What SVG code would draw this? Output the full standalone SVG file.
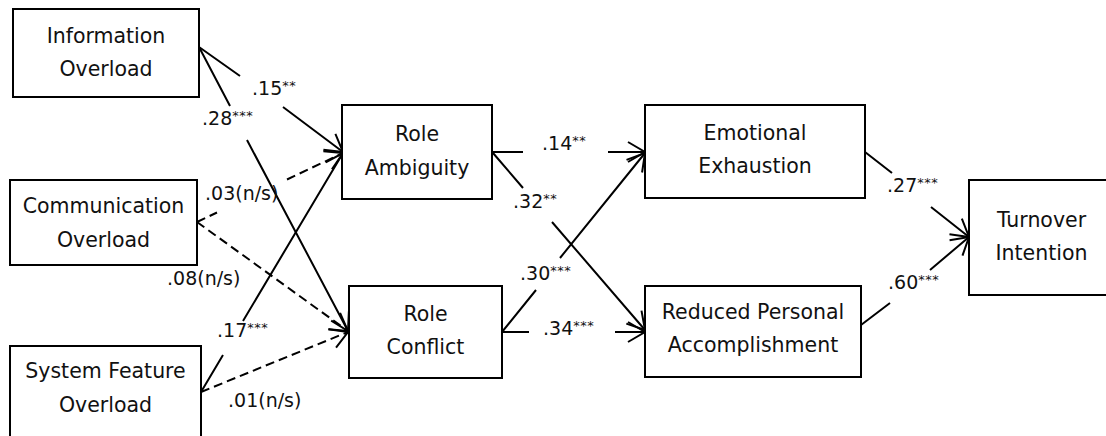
<svg xmlns="http://www.w3.org/2000/svg" width="1106" height="436" viewBox="0 0 1106 436">
<style>
.box{fill:#fff;stroke:#000;stroke-width:2}
.nt{font-family:"DejaVu Sans","Verdana",sans-serif;font-size:20.5px;fill:#111;text-anchor:middle}
.lb{font-family:"DejaVu Sans","Verdana",sans-serif;font-size:19px;fill:#111}
.st{font-size:13px;letter-spacing:0.5px}
.c{fill:none;stroke:#000;stroke-width:2}
.d{stroke-dasharray:9 5}
.ah{fill:none;stroke:#000;stroke-width:2;stroke-dasharray:none}
</style>
<defs>
<marker id="arr" markerUnits="userSpaceOnUse" viewBox="-20 -12 22 24" refX="0" refY="0" markerWidth="22" markerHeight="24" orient="auto" overflow="visible">
<path class="ah" d="M-17,-10 L0,0 L-17,10"/>
</marker>
</defs>
<rect width="1106" height="436" fill="#fff"/>
<g id="connectors">
<path class="c" marker-end="url(#arr)" d="M199,47 L240,76 M283,107 L343,152"/>
<path class="c" marker-end="url(#arr)" d="M199,47 L230,106 M247,140 L348,331"/>
<path class="c d" marker-end="url(#arr)" d="M197,222 L217,212.5 M287,179.5 L343,153"/>
<path class="c d" marker-end="url(#arr)" d="M197,222 L348,331"/>
<path class="c" marker-end="url(#arr)" d="M201,392 L223,355 M243,321 L343,153"/>
<path class="c d" marker-end="url(#arr)" d="M201,392 L348,332"/>
<path class="c" marker-end="url(#arr)" d="M492,152 L523,152 M608,152 L645,152"/>
<path class="c" marker-end="url(#arr)" d="M493,153 L523,188 M552,222 L645,330"/>
<path class="c" marker-end="url(#arr)" d="M502,332 L536,290 M560,258 L645,153"/>
<path class="c" marker-end="url(#arr)" d="M502,332 L529,332 M615,332 L645,332"/>
<path class="c" marker-end="url(#arr)" d="M865,152 L892,173 M931,207 L969,237"/>
<path class="c" marker-end="url(#arr)" d="M861,325 L890,303 M930,270 L969,237"/>
<text class="lb" x="252" y="95">.15<tspan class="st" dy="-5">**</tspan></text>
<text class="lb" x="202" y="125">.28<tspan class="st" dy="-5">***</tspan></text>
<text class="lb" x="205" y="200">.03(n/s)</text>
<text class="lb" x="167" y="285">.08(n/s)</text>
<text class="lb" x="217" y="337">.17<tspan class="st" dy="-5">***</tspan></text>
<text class="lb" x="228" y="407">.01(n/s)</text>
<text class="lb" x="542" y="150">.14<tspan class="st" dy="-5">**</tspan></text>
<text class="lb" x="513" y="208">.32<tspan class="st" dy="-5">**</tspan></text>
<text class="lb" x="520" y="280">.30<tspan class="st" dy="-5">***</tspan></text>
<text class="lb" x="543" y="335">.34<tspan class="st" dy="-5">***</tspan></text>
<text class="lb" x="887" y="192">.27<tspan class="st" dy="-5">***</tspan></text>
<text class="lb" x="888" y="289">.60<tspan class="st" dy="-5">***</tspan></text>
</g>
<g id="info-overload">
<rect class="box" x="13" y="9" width="186" height="88"/>
<text class="nt" x="106" y="43">Information</text>
<text class="nt" x="106" y="76">Overload</text>
</g>
<g id="comm-overload">
<rect class="box" x="10" y="180" width="187" height="85"/>
<text class="nt" x="103.5" y="213">Communication</text>
<text class="nt" x="103.5" y="247">Overload</text>
</g>
<g id="system-overload">
<rect class="box" x="10" y="346" width="191" height="100"/>
<text class="nt" x="105.5" y="378">System Feature</text>
<text class="nt" x="105.5" y="412">Overload</text>
</g>
<g id="role-ambiguity">
<rect class="box" x="342" y="105" width="150" height="94"/>
<text class="nt" x="417" y="141">Role</text>
<text class="nt" x="417" y="175">Ambiguity</text>
</g>
<g id="role-conflict">
<rect class="box" x="349" y="286" width="153" height="92"/>
<text class="nt" x="425.5" y="321">Role</text>
<text class="nt" x="425.5" y="354">Conflict</text>
</g>
<g id="emotional-exhaustion">
<rect class="box" x="645" y="105" width="220" height="93"/>
<text class="nt" x="755" y="140">Emotional</text>
<text class="nt" x="755" y="173">Exhaustion</text>
</g>
<g id="reduced-accomplishment">
<rect class="box" x="645" y="286" width="216" height="91"/>
<text class="nt" x="753" y="319">Reduced Personal</text>
<text class="nt" x="753" y="352">Accomplishment</text>
</g>
<g id="turnover-intention">
<rect class="box" x="969" y="180" width="140" height="115"/>
<text class="nt" x="1041.5" y="227">Turnover</text>
<text class="nt" x="1041.5" y="260">Intention</text>
</g>
</svg>
